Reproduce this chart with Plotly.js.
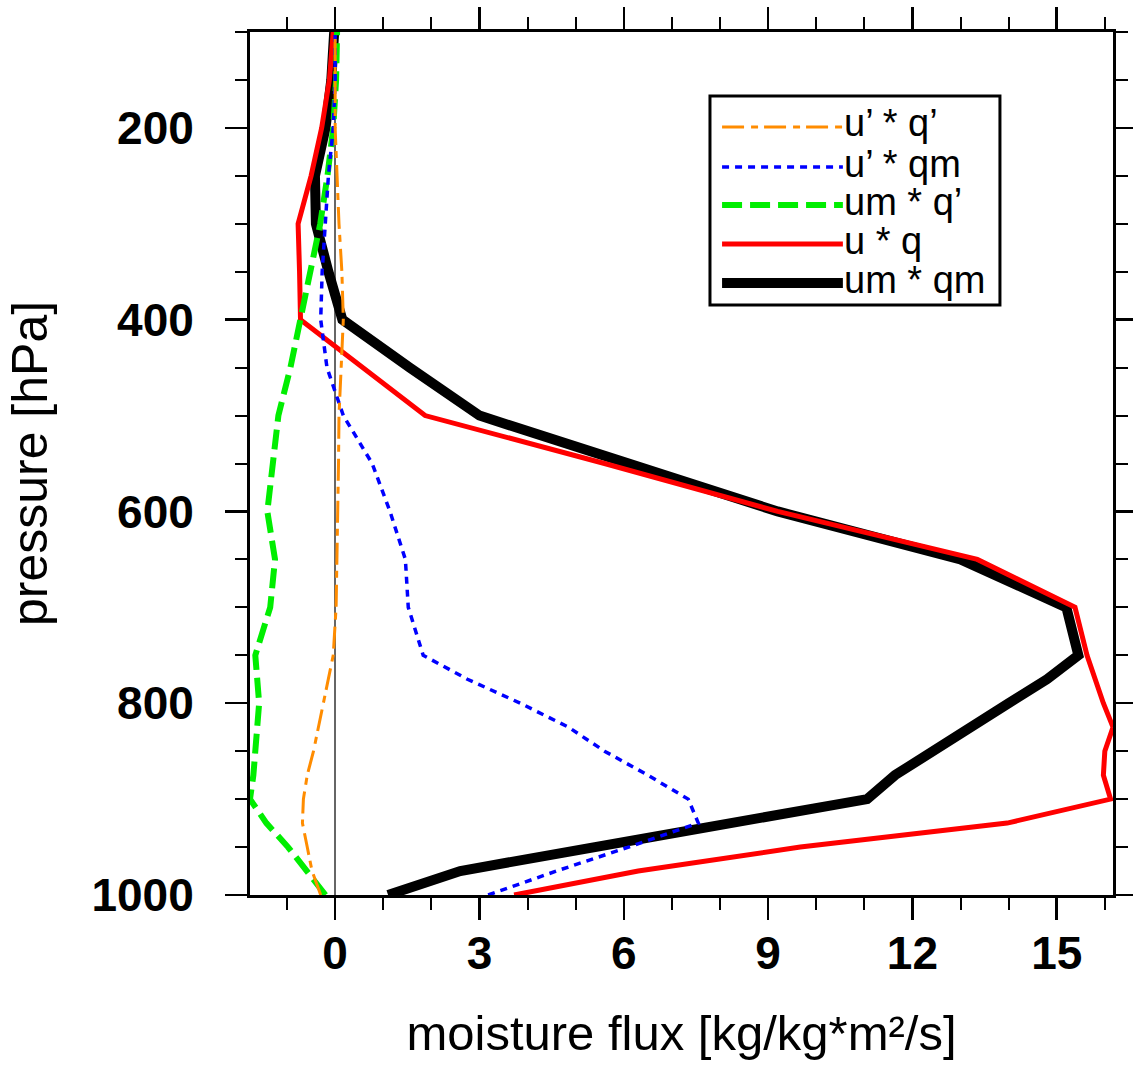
<!DOCTYPE html>
<html>
<head>
<meta charset="utf-8">
<script src="https://cdn.plot.ly/plotly-3.0.1.min.js"></script>
<style>html,body{margin:0;padding:0;background:#fff;}#chart{width:1133px;height:1070px;}</style>
</head>
<body>
<div id="chart"></div>
<script>
// pressure levels [hPa]
const pressure = [1000, 975, 950, 925, 900, 875, 850, 825, 800, 775, 750, 700, 650, 600, 550, 500, 450, 400, 350, 300, 250, 200, 150, 100];

// moisture flux series [kg/kg*m²/s]
const upQp  = [-0.30, -0.48, -0.58, -0.68, -0.66, -0.58, -0.45, -0.35, -0.25, -0.15, -0.04, 0.02, 0.04, 0.06, 0.07, 0.08, 0.12, 0.17, 0.14, 0.08, 0.04, 0.00, 0.00, 0.00];   // u' * q'
const upQm  = [3.18, 4.60, 6.10, 7.55, 7.34, 6.50, 5.60, 4.85, 3.85, 2.75, 1.83, 1.52, 1.46, 1.14, 0.77, 0.17, -0.17, -0.30, -0.27, -0.20, -0.14, -0.04, 0.00, 0.00]; // u' * qm
const umQp  = [-0.20, -0.60, -0.98, -1.43, -1.77, -1.70, -1.66, -1.62, -1.58, -1.62, -1.66, -1.35, -1.25, -1.41, -1.31, -1.18, -0.93, -0.72, -0.50, -0.31, -0.16, -0.04, 0.02, 0.04]; // um * q'
const uQ    = [3.72, 6.30, 9.67, 13.97, 16.12, 15.97, 16.00, 16.17, 15.97, 15.80, 15.63, 15.38, 13.35, 9.20, 5.60, 1.87, 0.57, -0.72, -0.74, -0.77, -0.50, -0.28, -0.12, -0.04]; // u * q
const umQm  = [1.10, 2.60, 5.40, 8.30, 11.06, 11.64, 12.40, 13.20, 14.00, 14.80, 15.45, 15.20, 13.00, 9.20, 6.10, 3.00, 1.55, 0.15, -0.14, -0.40, -0.42, -0.20, -0.08, -0.02]; // um * qm

const seriesNames = ["u’ * q’", "u’ * qm", "um * q’", "u * q", "um * qm"];
const xTickVals = [0, 3, 6, 9, 12, 15];
const yTickVals = [200, 400, 600, 800, 1000];

const FONT = "Liberation Sans, Arial, Helvetica, sans-serif";

const styles = [
  {color: "#ff8c00", width: 3, dash: "22px,7px,7px,6px"},
  {color: "#0000ff", width: 3.5, dash: "7px,6px"},
  {color: "#00ee00", width: 6, dash: "20px,8px"},
  {color: "#ff0000", width: 5, dash: "solid"},
  {color: "#000000", width: 10, dash: "solid"}
];
const allSeries = [upQp, upQm, umQp, uQ, umQm];

// drawing order: black first, red, green, blue, orange on top
const order = [4, 3, 2, 1, 0];
const traces = order.map(i => ({
  type: "scatter",
  mode: "lines",
  x: allSeries[i],
  y: pressure,
  name: seriesNames[i],
  showlegend: false,
  line: {color: styles[i].color, width: styles[i].width, dash: styles[i].dash}
}));

// custom legend (layout elements in paper coordinates)
const legRows = [0.890, 0.8436, 0.7995, 0.7544, 0.7092];
const shapes = [{
  type: "rect", xref: "paper", yref: "paper",
  x0: 0.533, x1: 0.869, y0: 0.6837, y1: 0.9258,
  line: {color: "black", width: 3}, fillcolor: "white", layer: "above"
}];
const annotations = [];
seriesNames.forEach((nm, i) => {
  shapes.push({
    type: "line", xref: "paper", yref: "paper",
    x0: 0.547, x1: 0.687, y0: legRows[i], y1: legRows[i],
    line: {color: styles[i].color, width: styles[i].width, dash: styles[i].dash}
  });
  annotations.push({
    xref: "paper", yref: "paper", x: 0.686, y: legRows[i] + 0.004,
    xanchor: "left", yanchor: "middle", showarrow: false,
    text: nm, font: {family: FONT, size: 38, color: "black"}
  });
});

const layout = {
  width: 1133, height: 1070,
  margin: {l: 250, r: 20, t: 32, b: 175},
  paper_bgcolor: "white", plot_bgcolor: "white",
  showlegend: false,
  xaxis: {
    range: [-1.77, 16.17], autorange: false,
    tickvals: xTickVals, ticktext: xTickVals.map(String),
    ticks: "outside", ticklen: 22, tickwidth: 2.5, tickcolor: "black",
    minor: {dtick: 1, tick0: 0, ticks: "outside", ticklen: 12, tickwidth: 2, tickcolor: "black", showgrid: false},
    showline: true, linecolor: "black", linewidth: 3, mirror: "ticks",
    showgrid: false, zeroline: true, zerolinecolor: "#666666", zerolinewidth: 2,
    tickfont: {family: FONT, size: 46, color: "black", weight: "bold"},
    ticklabelstandoff: -6,
    title: {text: "moisture flux [kg/kg*m²/s]", font: {family: FONT, size: 49, color: "black"}, standoff: 38},
    automargin: false
  },
  yaxis: {
    range: [1000, 100], autorange: false,
    tickvals: yTickVals, ticktext: yTickVals.map(String),
    ticks: "outside", ticklen: 22, tickwidth: 2.5, tickcolor: "black",
    minor: {dtick: 50, tick0: 0, ticks: "outside", ticklen: 12, tickwidth: 2, tickcolor: "black", showgrid: false},
    showline: true, linecolor: "black", linewidth: 3, mirror: "ticks",
    showgrid: false, zeroline: false,
    tickfont: {family: FONT, size: 46, color: "black", weight: "bold"},
    ticklabelstandoff: 22,
    title: {text: "pressure [hPa]", font: {family: FONT, size: 50, color: "black"}, standoff: 28},
    automargin: false
  },
  shapes: shapes,
  annotations: annotations
};

Plotly.newPlot("chart", traces, layout, {displayModeBar: false, staticPlot: true});
</script>
</body>
</html>
